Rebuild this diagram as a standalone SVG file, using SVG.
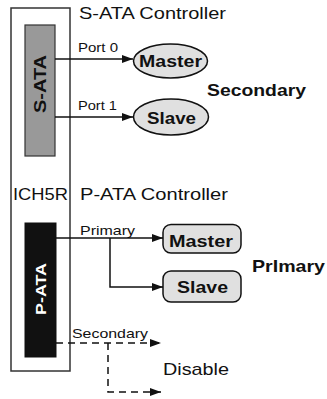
<svg xmlns="http://www.w3.org/2000/svg" width="327" height="399" viewBox="0 0 327 399">
<defs>
<marker id="ah" markerWidth="11" markerHeight="8" refX="11" refY="4" orient="auto" markerUnits="userSpaceOnUse">
<path d="M0,0 L11,4 L0,8 Z" fill="#111"/>
</marker>
<style>
text{font-family:"Liberation Sans",Arial,sans-serif;fill:#111}
.b{font-weight:bold}
.ln{fill:none;stroke:#111;stroke-width:1.5}
.dash{stroke-dasharray:7,5}
.disk{fill:#e0e0e0;stroke:#111;stroke-width:1.5}
</style>
</defs>
<rect width="327" height="399" fill="#fff"/>
<g id="ich5r">
<rect x="11" y="8" width="59" height="363" fill="none" stroke="#333" stroke-width="1.5"/>
<text x="13" y="200" font-size="16" textLength="55" lengthAdjust="spacingAndGlyphs">ICH5R</text>
</g>
<g id="sata">
<rect x="25" y="25" width="30" height="131" fill="#999" stroke="#333" stroke-width="1.2"/>
<text class="b" x="0" y="0" font-size="17" text-anchor="middle" transform="translate(46,84) rotate(-90)" textLength="58" lengthAdjust="spacingAndGlyphs">S-ATA</text>
</g>
<g id="pata">
<rect x="25" y="223" width="31" height="134" fill="#111" stroke="#111" stroke-width="1"/>
<text class="b" x="0" y="0" font-size="15" text-anchor="middle" transform="translate(45.5,289) rotate(-90)" textLength="52" lengthAdjust="spacingAndGlyphs" style="fill:#fff">P-ATA</text>
</g>
<g id="labels">
<text x="79" y="19" font-size="17" textLength="147" lengthAdjust="spacingAndGlyphs">S-ATA Controller</text>
<text x="80" y="200" font-size="17" textLength="148" lengthAdjust="spacingAndGlyphs">P-ATA Controller</text>
<text class="b" x="207" y="96" font-size="17" textLength="99" lengthAdjust="spacingAndGlyphs">Secondary</text>
<text class="b" x="252" y="272" font-size="17" textLength="73" lengthAdjust="spacingAndGlyphs">PrImary</text>
<text x="163" y="375" font-size="17" textLength="66" lengthAdjust="spacingAndGlyphs">Disable</text>
</g>
<g id="sata-master">
<ellipse class="disk" cx="170.5" cy="61" rx="37" ry="17"/>
<text class="b" x="170.5" y="66.5" font-size="17" text-anchor="middle" textLength="63" lengthAdjust="spacingAndGlyphs">Master</text>
</g>
<g id="sata-slave">
<ellipse class="disk" cx="171" cy="117" rx="37.5" ry="18"/>
<text class="b" x="171.5" y="124" font-size="17" text-anchor="middle" textLength="49" lengthAdjust="spacingAndGlyphs">Slave</text>
</g>
<g id="pata-master">
<rect class="disk" x="163" y="224.5" width="78" height="28.5" rx="8"/>
<text class="b" x="201" y="247" font-size="17" text-anchor="middle" textLength="64" lengthAdjust="spacingAndGlyphs">Master</text>
</g>
<g id="pata-slave">
<rect class="disk" x="163" y="271" width="78" height="31" rx="8"/>
<text class="b" x="202.5" y="293" font-size="17" text-anchor="middle" textLength="51" lengthAdjust="spacingAndGlyphs">Slave</text>
</g>
<g id="connectors">
<path class="ln" d="M55,59 H133" marker-end="url(#ah)"/>
<path class="ln" d="M55,117 H133" marker-end="url(#ah)"/>
<path class="ln" d="M56,238 H163" marker-end="url(#ah)"/>
<path class="ln" d="M110,238 V287 H163" marker-end="url(#ah)"/>
<path class="ln dash" d="M56,343 H161" marker-end="url(#ah)"/>
<path class="ln dash" d="M108,343 V392 H161" marker-end="url(#ah)"/>
<text x="78" y="52" font-size="12.5" textLength="40" lengthAdjust="spacingAndGlyphs">Port 0</text>
<text x="78" y="110" font-size="12.5" textLength="39" lengthAdjust="spacingAndGlyphs">Port 1</text>
<text x="80" y="235" font-size="13" textLength="55" lengthAdjust="spacingAndGlyphs">Primary</text>
<text x="72" y="338" font-size="13" textLength="76" lengthAdjust="spacingAndGlyphs">Secondary</text>
</g>
</svg>
